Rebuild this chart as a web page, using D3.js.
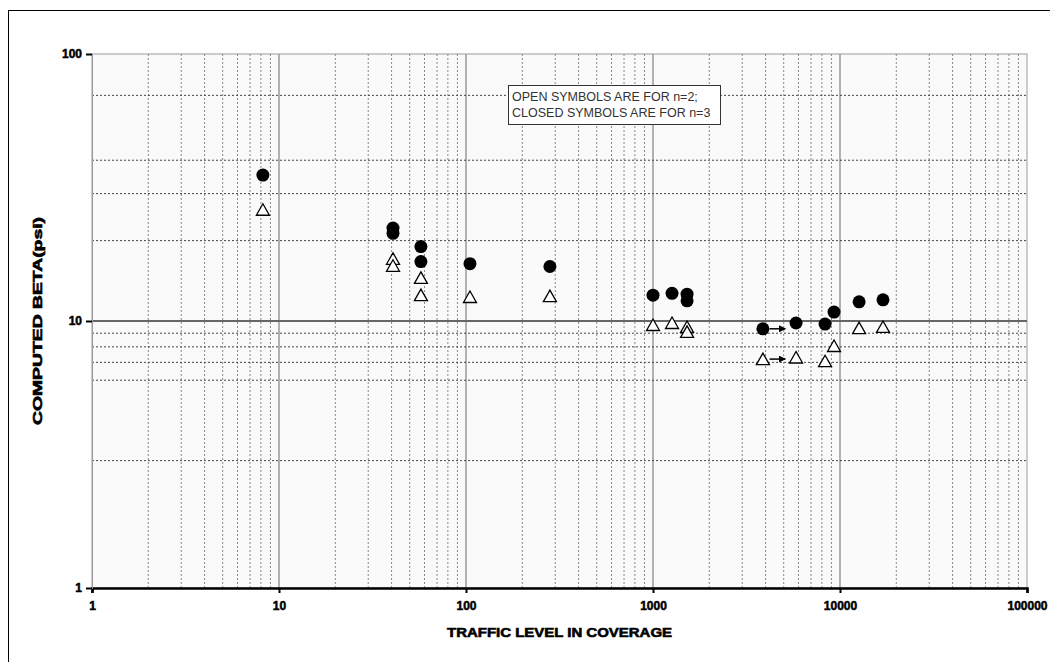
<!DOCTYPE html>
<html>
<head>
<script src="https://d3js.org/d3.v7.min.js"></script>
<style>
  body { margin: 0; background: #fff; }
  text { font-family: "Liberation Sans", Arial, sans-serif; }
</style>
</head>
<body>
<svg width="1050" height="662"></svg>
<script>
// traffic level (coverages) for each test point
const traffic = [8.2, 40.7, 40.7, 57.4, 57.4, 105, 281, 1000, 1264, 1521, 1521, 3870, 5820, 8320, 9290, 12650, 16980];
// computed beta, closed symbols (n=3)
const betaN3 = [35.2, 22.3, 21.3, 19.0, 16.7, 16.4, 16.0, 12.5, 12.7, 12.6, 11.9, 9.35, 9.83, 9.74, 10.8, 11.8, 12.0];
// computed beta, open symbols (n=2)
const betaN2 = [26.1, 17.1, 16.1, 14.5, 12.5, 12.3, 12.4, 9.66, 9.83, 9.5, 9.1, 7.2, 7.3, 7.07, 8.06, 9.4, 9.5];
// the two little arrows
const arrowFrom = [4200, 4200];
const arrowTo = [5100, 5100];
const arrowBeta = [9.35, 7.2];

const xTicks = [1, 10, 100, 1000, 10000, 100000];
const yTicks = [1, 10, 100];
const yDotted = [3, 6, 7, 8, 9, 20, 30, 40, 70];
const legendLines = ["OPEN SYMBOLS ARE FOR n=2;", "CLOSED SYMBOLS ARE FOR n=3"];

const svg = d3.select("svg");
const plotL = 92, plotR = 1027, plotT = 54, plotB = 588;

const x = d3.scaleLog().domain([1, 100000]).range([plotL, plotR]);
const y = d3.scaleLog().domain([1, 100]).range([plotB, plotT]);

// outer frame
svg.append("rect").attr("x", 8.5).attr("y", 10.5).attr("width", 1100).attr("height", 700)
  .attr("fill", "none").attr("stroke", "#000").attr("stroke-width", 1);

// plot area
svg.append("rect").attr("x", plotL).attr("y", plotT).attr("width", plotR - plotL).attr("height", plotB - plotT)
  .attr("fill", "#fafafa").attr("stroke", "#999").attr("stroke-width", 1);

const grid = svg.append("g");

// vertical minor gridlines
const minorX = [];
for (let d = 1; d < 100000; d *= 10) for (let k = 2; k <= 9; k++) minorX.push(d * k);
grid.selectAll("line.vx").data(minorX).enter().append("line")
  .attr("x1", d => x(d)).attr("x2", d => x(d)).attr("y1", plotT).attr("y2", plotB)
  .attr("stroke", "#888").attr("stroke-dasharray", "2,2").attr("stroke-width", 1);

// vertical major gridlines
grid.selectAll("line.mx").data([10, 100, 1000, 10000]).enter().append("line")
  .attr("x1", d => x(d)).attr("x2", d => x(d)).attr("y1", plotT).attr("y2", plotB)
  .attr("stroke", "#999").attr("stroke-width", 1.5);

// horizontal dotted gridlines
grid.selectAll("line.hy").data(yDotted).enter().append("line")
  .attr("x1", plotL).attr("x2", plotR).attr("y1", d => y(d)).attr("y2", d => y(d))
  .attr("stroke", "#444").attr("stroke-dasharray", "2,2").attr("stroke-width", 1);

// solid line at 10
grid.append("line").attr("x1", plotL).attr("x2", plotR).attr("y1", y(10)).attr("y2", y(10))
  .attr("stroke", "#666").attr("stroke-width", 2);

// axes
const xAxis = d3.axisBottom(x).tickValues(xTicks).tickFormat(d3.format("d")).tickSize(5).tickPadding(8);
const gx = svg.append("g").attr("transform", `translate(0,${plotB})`).call(xAxis);
gx.select(".domain").attr("stroke", "#000").attr("stroke-width", 2.5);
gx.selectAll(".tick line").attr("stroke", "#000").attr("stroke-width", 2);
gx.selectAll("text").attr("font-size", 12).attr("font-weight", "bold").attr("fill", "#000")
  .attr("stroke", "#000").attr("stroke-width", 0.5);

const yAxis = d3.axisLeft(y).tickValues(yTicks).tickFormat(d3.format("d")).tickSize(6).tickPadding(4);
const gy = svg.append("g").attr("transform", `translate(${plotL},0)`).call(yAxis);
gy.select(".domain").attr("stroke", "#999").attr("stroke-width", 1);
gy.selectAll(".tick line").attr("stroke", "#000").attr("stroke-width", 2);
gy.selectAll("text").attr("font-size", 12).attr("font-weight", "bold").attr("fill", "#000")
  .attr("stroke", "#000").attr("stroke-width", 0.5);

// axis titles
svg.append("text").attr("x", 447).attr("y", 637)
  .attr("font-size", 13).attr("font-weight", "bold")
  .attr("stroke", "#000").attr("stroke-width", 0.6)
  .attr("textLength", 225).attr("lengthAdjust", "spacingAndGlyphs")
  .text("TRAFFIC LEVEL IN COVERAGE");
svg.append("text").attr("transform", "translate(42,425) rotate(-90)")
  .attr("font-size", 12).attr("font-weight", "bold")
  .attr("stroke", "#000").attr("stroke-width", 0.6)
  .attr("textLength", 208).attr("lengthAdjust", "spacingAndGlyphs")
  .text("COMPUTED BETA(psi)");

// arrows
svg.append("defs").append("marker").attr("id", "ah").attr("viewBox", "0 0 10 10")
  .attr("refX", 9).attr("refY", 5).attr("markerWidth", 7).attr("markerHeight", 7)
  .attr("markerUnits", "userSpaceOnUse").attr("orient", "auto")
  .append("path").attr("d", "M0,0 L10,5 L0,10 Z").attr("fill", "#000");
svg.selectAll("line.arrow").data(arrowBeta).enter().append("line")
  .attr("x1", (d, i) => x(arrowFrom[i])).attr("x2", (d, i) => x(arrowTo[i]))
  .attr("y1", d => y(d)).attr("y2", d => y(d))
  .attr("stroke", "#000").attr("stroke-width", 1.5).attr("marker-end", "url(#ah)");

// open triangles (n=2)
svg.selectAll("path.tri").data(betaN2).enter().append("path")
  .attr("transform", (d, i) => `translate(${x(traffic[i])},${y(d)})`)
  .attr("d", "M0,-6 L6.5,5.5 L-6.5,5.5 Z")
  .attr("fill", "#fff").attr("stroke", "#000").attr("stroke-width", 1.3);

// closed circles (n=3)
svg.selectAll("circle.dot").data(betaN3).enter().append("circle")
  .attr("cx", (d, i) => x(traffic[i])).attr("cy", d => y(d)).attr("r", 6.5)
  .attr("fill", "#000");

// legend note
const lg = svg.append("g");
lg.append("rect").attr("x", 508.5).attr("y", 85.5).attr("width", 212).attr("height", 39)
  .attr("fill", "#fff").attr("stroke", "#333").attr("stroke-width", 1);
lg.selectAll("text").data(legendLines).enter().append("text")
  .attr("x", 512).attr("y", (d, i) => 101 + i * 16)
  .attr("font-size", 12.5).attr("fill", "#333").text(d => d);
</script>
</body>
</html>
